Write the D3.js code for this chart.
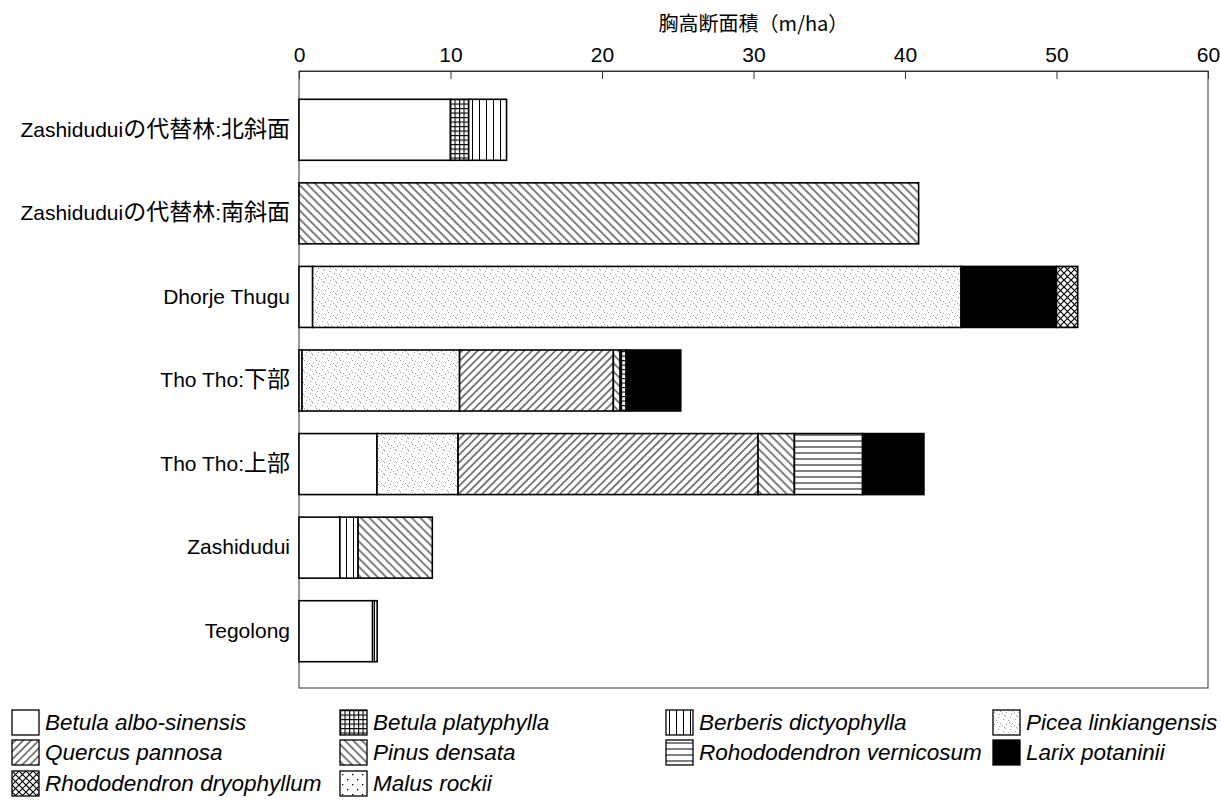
<!DOCTYPE html>
<html><head><meta charset="utf-8">
<script src="https://cdn.jsdelivr.net/npm/d3@7"></script>
<style>body{margin:0;background:#fff}</style>
</head><body><svg id="c" width="1221" height="811"></svg>
<script>
const categories = ["Zashiduduiの代替林:北斜面","Zashiduduiの代替林:南斜面","Dhorje Thugu","Tho Tho:下部","Tho Tho:上部","Zashidudui","Tegolong"];
const species = ["Betula albo-sinensis","Betula platyphylla","Berberis dictyophylla","Picea linkiangensis","Quercus pannosa","Pinus densata","Rohododendron vernicosum","Larix potaninii","Rhododendron dryophyllum","Malus rockii"];
const rowSpecies = [
  ["Betula albo-sinensis","Betula platyphylla","Berberis dictyophylla"],
  ["Pinus densata"],
  ["Betula albo-sinensis","Picea linkiangensis","Larix potaninii","Rhododendron dryophyllum"],
  ["Betula albo-sinensis","Picea linkiangensis","Quercus pannosa","Pinus densata","Betula platyphylla","Larix potaninii"],
  ["Betula albo-sinensis","Picea linkiangensis","Quercus pannosa","Pinus densata","Rohododendron vernicosum","Larix potaninii"],
  ["Betula albo-sinensis","Berberis dictyophylla","Pinus densata"],
  ["Betula albo-sinensis","Berberis dictyophylla"]
];
const rowValues = [
  [10.0,1.2,2.5],
  [40.9],
  [0.9,42.8,6.3,1.4],
  [0.2,10.4,10.15,0.45,0.4,3.6],
  [5.15,5.35,19.8,2.4,4.5,4.05],
  [2.7,1.2,4.9],
  [4.86,0.3]
];
const xTicks = [0,10,20,30,40,50,60];
const xTitle = "胸高断面積（m/ha）";

const svg = d3.select("#c");
const defs = svg.append("defs");
const FONT = "'Liberation Sans', Arial, 'Noto Sans CJK JP', sans-serif";
const CJK = "'Noto Sans CJK JP', sans-serif";

function pat(id, w, h, rot) {
  const p = defs.append("pattern").attr("id", id).attr("patternUnits","userSpaceOnUse")
    .attr("width", w).attr("height", h);
  if (rot) p.attr("patternTransform", `rotate(${rot})`);
  p.append("rect").attr("width", w).attr("height", h).attr("fill", "#fff");
  return p;
}
let p = pat("p1", 4.5, 4.5);
p.append("path").attr("d","M0.5,0V4.5M0,0.5H4.5").attr("stroke","#000").attr("stroke-width",1.2);
p = pat("p2", 7, 10);
p.append("path").attr("d","M3.5,0V10").attr("stroke","#000").attr("stroke-width",1);
p = pat("p3", 12, 12);
[[1,2],[5,7],[9,3],[3,10],[10,9],[7,1],[0,6],[6,4],[11,5],[4,0]].forEach(([a,b]) =>
  p.append("rect").attr("x",a).attr("y",b).attr("width",1).attr("height",1).attr("fill","#999"));
p = pat("p4", 5.5, 10, 45);
p.append("path").attr("d","M2.75,0V10").attr("stroke","#000").attr("stroke-width",1);
p = pat("p5", 6, 10, -45);
p.append("path").attr("d","M3,0V10").attr("stroke","#000").attr("stroke-width",1);
p = pat("p6", 10, 6);
p.append("path").attr("d","M0,3H10").attr("stroke","#000").attr("stroke-width",1);
p = pat("p8", 7, 7);
p.append("path").attr("d","M0,0L7,7M7,0L0,7").attr("stroke","#000").attr("stroke-width",1.2);
p = pat("p9", 10, 10);
[[2,3],[7,8]].forEach(([a,b]) =>
  p.append("rect").attr("x",a).attr("y",b).attr("width",1.3).attr("height",1.3).attr("fill","#000"));

const fills = {
  "Betula albo-sinensis":"#fff",
  "Betula platyphylla":"url(#p1)",
  "Berberis dictyophylla":"url(#p2)",
  "Picea linkiangensis":"url(#p3)",
  "Quercus pannosa":"url(#p4)",
  "Pinus densata":"url(#p5)",
  "Rohododendron vernicosum":"url(#p6)",
  "Larix potaninii":"#000",
  "Rhododendron dryophyllum":"url(#p8)",
  "Malus rockii":"url(#p9)"
};

const x = d3.scaleLinear().domain([0,60]).range([299,1208]);
const y = d3.scaleBand().domain(categories).range([88,673]).paddingInner(0.27).paddingOuter(0.135);
const frameTop = 71, frameBottom = 688;

svg.append("rect").attr("x",x(0)).attr("y",frameTop).attr("width",x(60)-x(0)).attr("height",frameBottom-frameTop)
  .attr("fill","none").attr("stroke","#333").attr("stroke-width",1);

const segs = [];
categories.forEach((c,i) => {
  let acc = 0;
  rowSpecies[i].forEach((s,j) => {
    const v = rowValues[i][j];
    segs.push({cat:c, sp:s, x0:acc, x1:acc+v});
    acc += v;
  });
});
svg.append("g").selectAll("rect").data(segs).join("rect")
  .attr("x", d => x(d.x0)).attr("width", d => x(d.x1)-x(d.x0))
  .attr("y", d => y(d.cat)).attr("height", y.bandwidth())
  .attr("fill", d => fills[d.sp]).attr("stroke","#000").attr("stroke-width",1.6);

const ax = svg.append("g").attr("transform",`translate(0,${frameTop})`)
  .call(d3.axisTop(x).tickValues(xTicks).tickSizeInner(-8).tickSizeOuter(0).tickPadding(9));
ax.select(".domain").attr("stroke","#333");
ax.selectAll(".tick line").attr("stroke","#333");
ax.selectAll("text").attr("font-family",FONT).attr("font-size",21).attr("fill","#000");

svg.append("text").attr("x",(x(0)+x(60))/2).attr("y",31).attr("text-anchor","middle")
  .attr("font-family",CJK).attr("font-size",20).text(xTitle);

// left category labels: Latin at 21px, CJK runs slightly larger
const ay = svg.append("g").attr("transform",`translate(${x(0)},0)`)
  .call(d3.axisLeft(y).tickSize(0).tickPadding(9));
ay.select(".domain").remove();
ay.selectAll("text").attr("font-family",FONT).attr("font-size",21).attr("fill","#000")
  .each(function(d) {
    const t = d3.select(this).text("");
    const parts = d.match(/[\u3000-\u9fff]+|[^\u3000-\u9fff]+/g);
    parts.forEach(s => {
      const sp = t.append("tspan").text(s);
      if (/[\u3000-\u9fff]/.test(s)) sp.attr("font-family", CJK).attr("font-size", 23);
    });
  });

const colX = [12,340,666,993], rowY = [710,740,771];
const lg = svg.append("g").selectAll("g").data(species).join("g")
  .attr("transform",(d,i) => `translate(${colX[i%4]},${rowY[Math.floor(i/4)]})`);
lg.append("rect").attr("width",27).attr("height",25).attr("fill",d => fills[d])
  .attr("stroke","#000").attr("stroke-width",1.3);
lg.append("text").attr("x",33).attr("y",12.5).attr("dy","0.35em")
  .attr("font-family",FONT).attr("font-size",22.5).attr("font-style","italic").text(d => d);
</script></body></html>
